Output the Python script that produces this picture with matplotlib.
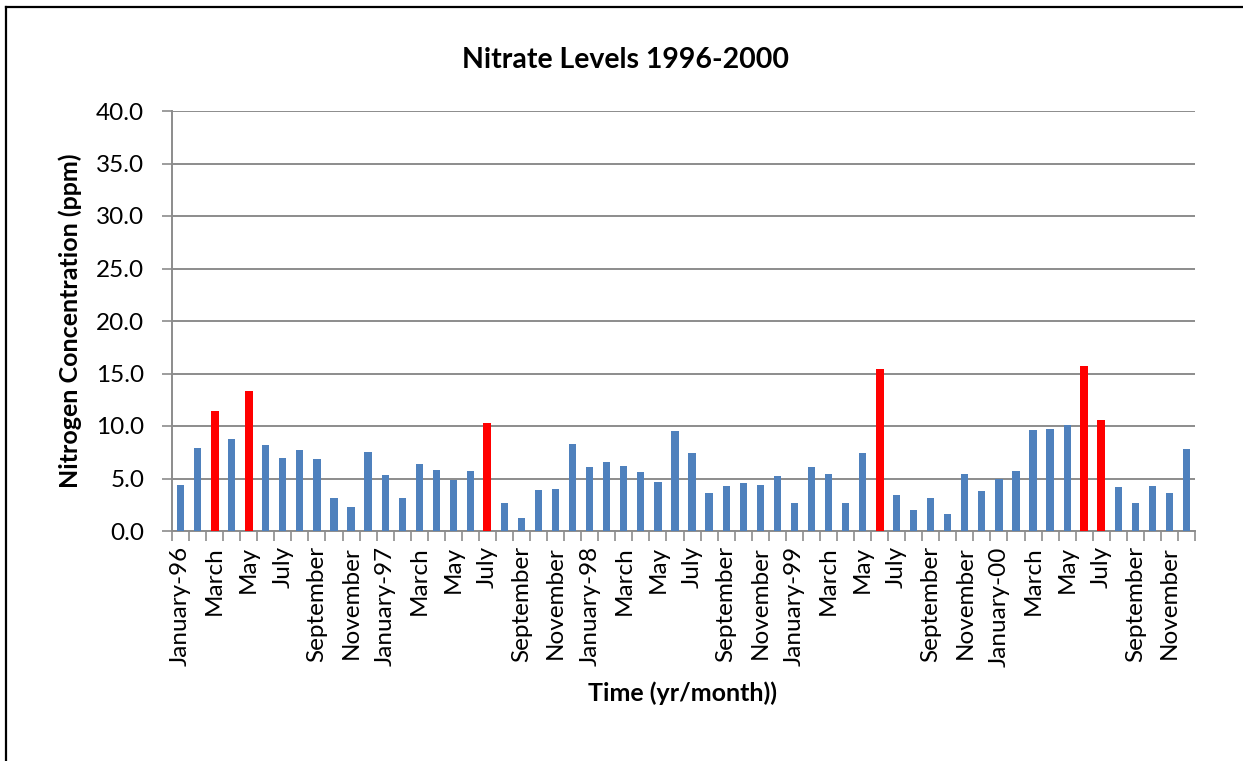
import numpy as np
import matplotlib
matplotlib.use("Agg")
from matplotlib import pyplot as plt
from matplotlib.lines import Line2D

plt.rcParams['font.family'] = ['Lato', 'DejaVu Sans']

# monthly nitrate readings, Jan 1996 .. Dec 2000
month_names = ['January', 'February', 'March', 'April', 'May', 'June',
               'July', 'August', 'September', 'October', 'November', 'December']
years = ['96', '97', '98', '99', '00']

nitrate = [
  4.4, 7.9, 11.4, 8.8, 13.3, 8.2, 7.0, 7.7, 6.9, 3.1, 2.3, 7.5,
  5.3, 3.1, 6.4, 5.8, 4.9, 5.7, 10.3, 2.7, 1.2, 3.9, 4.0, 8.3,
  6.1, 6.6, 6.2, 5.6, 4.7, 9.5, 7.4, 3.6, 4.3, 4.6, 4.4, 5.2,
  2.7, 6.1, 5.4, 2.7, 7.4, 15.4, 3.4, 2.0, 3.1, 1.6, 5.4, 3.8,
  5.0, 5.7, 9.6, 9.7, 10.1, 15.7, 10.6, 4.2, 2.7, 4.3, 3.6, 7.8,
]
# months flagged above the limit (drawn red)
exceeds = [2, 4, 18, 41, 53, 54]

labels = []
for y in years:
  for m in month_names:
    labels.append(m + '-' + y if m == 'January' else m)

x = np.arange(len(nitrate))
colors = ['#FF0000' if i in exceeds else '#4F81BD' for i in x]
widths = [0.47 if i in exceeds else 0.42 for i in x]

fig = plt.figure(figsize=(12.43, 7.61), dpi=100)
ax = fig.add_axes([172/1243, 1-531/761, (1195-172)/1243, (531-111)/761])

ax.bar(x, nitrate, width=widths, color=colors, zorder=3)

grid_c = '#8C8C8C'
ax.set_xlim(-0.5, len(nitrate)-0.5)
ax.set_ylim(0, 40)
ax.set_yticks(np.arange(0, 41, 5))
ax.set_yticklabels(['%.1f' % v for v in np.arange(0, 41, 5)], fontsize=17.5)
ax.yaxis.grid(True, color=grid_c, lw=1.4, zorder=0)
ax.tick_params(axis='y', length=7, width=1.2, color=grid_c, pad=13)

ax.set_xticks(x[::2])
ax.set_xticklabels(labels[::2], rotation=90, fontsize=17.5, va='top')
ax.set_xticks(np.arange(-0.5, len(nitrate), 1), minor=True)
ax.tick_params(axis='x', which='major', length=0, pad=11)
ax.tick_params(axis='x', which='minor', length=7, width=1.2, color=grid_c)

for s in ['top', 'right']:
  ax.spines[s].set_visible(False)
for s in ['left', 'bottom']:
  ax.spines[s].set_color(grid_c)
  ax.spines[s].set_linewidth(1.4)

fig.text(625/1243, 1-60/761, 'Nitrate Levels 1996-2000', ha='center', va='center',
         fontsize=20.5, fontweight='bold')
fig.text(683/1243, 1-693/761, 'Time (yr/month))', ha='center', va='center',
         fontsize=18, fontweight='bold')
fig.text(70/1243, 1-321/761, 'Nitrogen Concentration (ppm)', ha='center', va='center',
         rotation=90, fontsize=18, fontweight='bold')

# chart border (cut off on the right and bottom)
fig.add_artist(Line2D([6/1243, 6/1243], [0, 1-7/761], color='black', lw=1.6))
fig.add_artist(Line2D([6/1243, 1], [1-7/761, 1-7/761], color='black', lw=1.6))

fig.savefig('out.png', dpi=100)
